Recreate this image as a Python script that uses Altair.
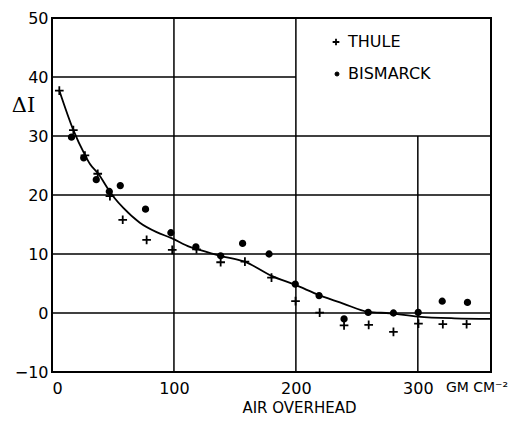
import altair as alt
import pandas as pd

# ---- data ----
thule_x = [6, 17.5, 27, 37.5, 47.5, 58, 77.6, 98.6, 118.5, 138.3, 158.2, 180, 199.7,
           219.5, 239.5, 259.7, 280, 300.5, 320.5, 340]
thule_y = [37.7, 31.0, 26.7, 23.6, 19.8, 15.8, 12.4, 10.7, 10.8, 8.6, 8.7, 6.0, 2.0,
           0.05, -2.1, -2.0, -3.2, -1.8, -1.9, -1.9]
bis_x = [16, 26, 36.3, 47, 56, 76.7, 97.5, 118, 138.3, 156.3, 178, 199.5, 219,
         239.5, 259.3, 280, 300.3, 320, 340.7]
bis_y = [29.8, 26.3, 22.6, 20.6, 21.6, 17.6, 13.6, 11.2, 9.7, 11.8, 10.0, 4.9, 2.95,
         -1.0, 0.1, 0.0, 0.1, 2.0, 1.8]
curve_x = [6, 17.5, 27, 31, 38, 47, 51.6, 58.5, 72, 85.8, 98, 113, 121, 138, 158, 180,
           199, 219.7, 238.8, 259.3, 277, 300, 330, 360]
curve_y = [37.7, 31.0, 26.8, 25.3, 23.6, 20.7, 19.4, 17.8, 15.3, 13.7, 12.7, 11.2, 10.7,
           9.7, 8.7, 6.3, 4.8, 3.0, 1.6, 0.2, -0.05, -0.6, -0.9, -1.0]
series_names = ["THULE", "BISMARCK"]
x_ticks = [0, 100, 200, 300]
y_ticks = [-10, 0, 10, 20, 30, 40, 50]

# grid lines (partial lines leave room for the key)
hgrid_y = [0, 10, 20, 30, 40]
hgrid_x2 = [360, 360, 360, 360, 200]
vgrid_x = [100, 200, 300]
vgrid_y2 = [50, 50, 30]

PLUS = "M-1,0H1M0,-1V1"

pts = pd.DataFrame({
    "x": thule_x + bis_x,
    "y": thule_y + bis_y,
    "series": [series_names[0]] * len(thule_x) + [series_names[1]] * len(bis_x),
})
curve = pd.DataFrame({"x": curve_x, "y": curve_y})
hgrid = pd.DataFrame({"y": hgrid_y, "x0": [0] * len(hgrid_y), "x2": hgrid_x2})
vgrid = pd.DataFrame({"x": vgrid_x, "y0": [-10] * len(vgrid_x), "y2": vgrid_y2})
unit = pd.DataFrame({"x": [323], "t": ["GM CM⁻²"]})

xs = alt.Scale(domain=[0, 360], nice=False, zero=False)
ys = alt.Scale(domain=[-10, 50], nice=False, zero=False)

xaxis = alt.Axis(values=x_ticks, ticks=False, domain=False, grid=False,
                 labelFontSize=16, labelPadding=8, labelColor="black",
                 title="AIR OVERHEAD", titleFontSize=15, titleFontWeight="normal",
                 titleX=247, titleY=35, titleBaseline="middle", titleAlign="center",
                 titleColor="black")
yaxis = alt.Axis(values=y_ticks, ticks=False, domain=False, grid=False,
                 labelFontSize=16, labelPadding=4, labelColor="black",
                 title="ΔI", titleFontSize=21, titleFontWeight="normal",
                 titleFont="DejaVu Serif", titleAngle=0, titleX=-29, titleY=87,
                 titleAlign="center", titleBaseline="middle", titleColor="black")

hg = alt.Chart(hgrid).mark_rule(color="black", strokeWidth=1.5).encode(
    x=alt.X("x0:Q", scale=xs, axis=xaxis),
    x2="x2:Q",
    y=alt.Y("y:Q", scale=ys, axis=yaxis),
)
vg = alt.Chart(vgrid).mark_rule(color="black", strokeWidth=1.5).encode(
    x=alt.X("x:Q", scale=xs),
    y=alt.Y("y0:Q", scale=ys),
    y2="y2:Q",
)
line = alt.Chart(curve).mark_line(color="black", strokeWidth=1.8,
                                  interpolate="monotone").encode(
    x=alt.X("x:Q", scale=xs),
    y=alt.Y("y:Q", scale=ys),
)
points = alt.Chart(pts).mark_point(stroke="black", strokeWidth=1.8, opacity=1).encode(
    x=alt.X("x:Q", scale=xs),
    y=alt.Y("y:Q", scale=ys),
    shape=alt.Shape("series:N",
                    scale=alt.Scale(domain=series_names, range=[PLUS, "circle"]),
                    legend=None),
    fill=alt.Fill("series:N",
                  scale=alt.Scale(domain=series_names, range=["black", "black"]),
                  legend=None),
    size=alt.Size("series:N",
                  scale=alt.Scale(domain=series_names, range=[75, 30]),
                  legend=None),
)
unit_text = alt.Chart(unit).mark_text(align="left", baseline="middle", fontSize=14,
                                      color="black").encode(
    x=alt.X("x:Q", scale=xs),
    y=alt.value(370),
    text="t:N",
)

# key in the upper right corner
key_thule_sym = alt.Chart(pd.DataFrame({"s": [series_names[0]]})).mark_point(
    shape=PLUS, stroke="black", strokeWidth=1.8, size=45, opacity=1
).encode(x=alt.value(284), y=alt.value(24))
key_bis_sym = alt.Chart(pd.DataFrame({"s": [series_names[1]]})).mark_point(
    shape="circle", fill="black", stroke="black", strokeWidth=1, size=16, opacity=1
).encode(x=alt.value(285), y=alt.value(56))
key_thule_txt = alt.Chart(pd.DataFrame({"s": [series_names[0]]})).mark_text(
    align="left", baseline="middle", fontSize=16, color="black"
).encode(x=alt.value(296), y=alt.value(24), text="s:N")
key_bis_txt = alt.Chart(pd.DataFrame({"s": [series_names[1]]})).mark_text(
    align="left", baseline="middle", fontSize=16, color="black"
).encode(x=alt.value(296), y=alt.value(56), text="s:N")

chart = alt.layer(hg, vg, line, points, unit_text,
                  key_thule_sym, key_bis_sym, key_thule_txt, key_bis_txt).properties(
    width=439, height=354,
    autosize=alt.AutoSizeParams(type="none"),
    padding={"left": 44, "top": 10, "right": 17, "bottom": 44},
).configure(font="DejaVu Sans").configure_view(stroke="black", strokeWidth=2)

chart.save("out.html", embed_options={"renderer": "svg", "actions": False})
